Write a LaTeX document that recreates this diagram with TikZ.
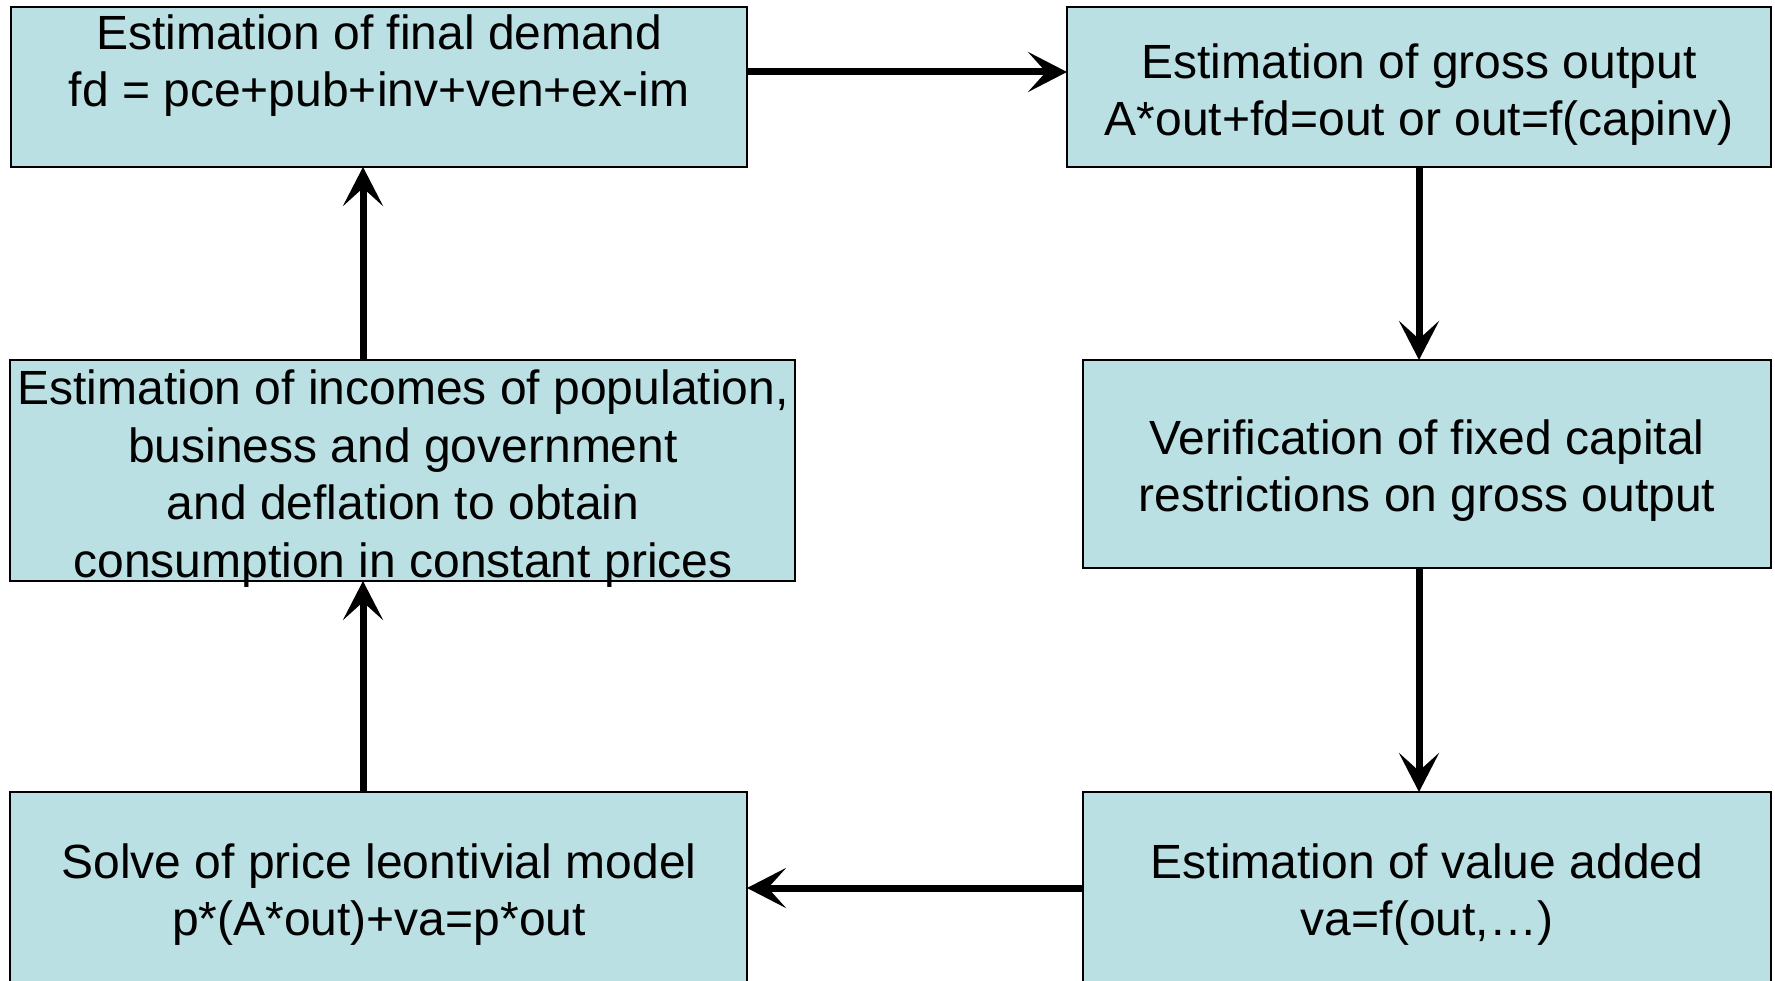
\documentclass[tikz,border=0pt]{standalone}
\usepackage{fontspec}
\setmainfont{Liberation Sans}
\usetikzlibrary{arrows.meta}
\definecolor{boxfill}{RGB}{187,224,227}
\begin{document}
\begin{tikzpicture}[x=1pt,y=-1pt,
  box/.style={draw=black, line width=2.8pt, fill=boxfill, inner sep=0pt, outer sep=0pt},
  txt/.style={align=center, font=\fontsize{48}{57.7}\selectfont, inner sep=0pt},
  arr/.style={line width=7pt, -{Stealth[length=39pt,width=40pt,inset=18pt]}}]
\useasboundingbox (0,0) rectangle (1775,981);
% boxes
\node[box, minimum width=736pt, minimum height=160pt] (b1) at (379,87) {};
\node[box, minimum width=704pt, minimum height=160pt] (b2) at (1419,87) {};
\node[box, minimum width=785pt, minimum height=221pt] (b3) at (402.5,470.5) {};
\node[box, minimum width=688pt, minimum height=208pt] (b4) at (1427,464) {};
\node[box, minimum width=737pt, minimum height=198pt] (b5) at (378.5,891) {};
\node[box, minimum width=688pt, minimum height=198pt] (b6) at (1427,891) {};
% texts
\node[txt] (t1) at (379,65.5) {Estimation of final demand\\fd = pce+pub+inv+ven+ex-im};
\node[txt] (t2) at (1419,94.5) {Estimation of gross output\\A*out+fd=out or out=f(capinv)};
\node[txt] (t3) at (403,478.5) {Estimation of incomes of population,\\business and government\\and deflation to obtain\\consumption in constant prices};
\node[txt] (t4) at (1427,470.5) {Verification of fixed capital\\restrictions on gross output};
\node[txt] (t5) at (379,894.5) {Solve of price leontivial model\\p*(A*out)+va=p*out};
\node[txt] (t6) at (1427,894.5) {Estimation of value added\\va=f(out,…)};
% connectors
\draw[arr] ([yshift=15pt]b1.east) -- ([yshift=15pt]b2.west);
\draw[arr] (b2.south) -- (b2.south |- b4.north);
\draw[arr] (b2.south |- b4.south) -- (b2.south |- b6.north);
\draw[arr] ([yshift=3pt]b6.west) -- ([yshift=3pt]b5.east);
\draw[arr] ([xshift=-15.5pt]b5.north) -- ([xshift=-15.5pt]b5.north |- b3.south);
\draw[arr] ([xshift=-15.5pt]b5.north |- b3.north) -- ([xshift=-15.5pt]b5.north |- b1.south);
\end{tikzpicture}
\end{document}
